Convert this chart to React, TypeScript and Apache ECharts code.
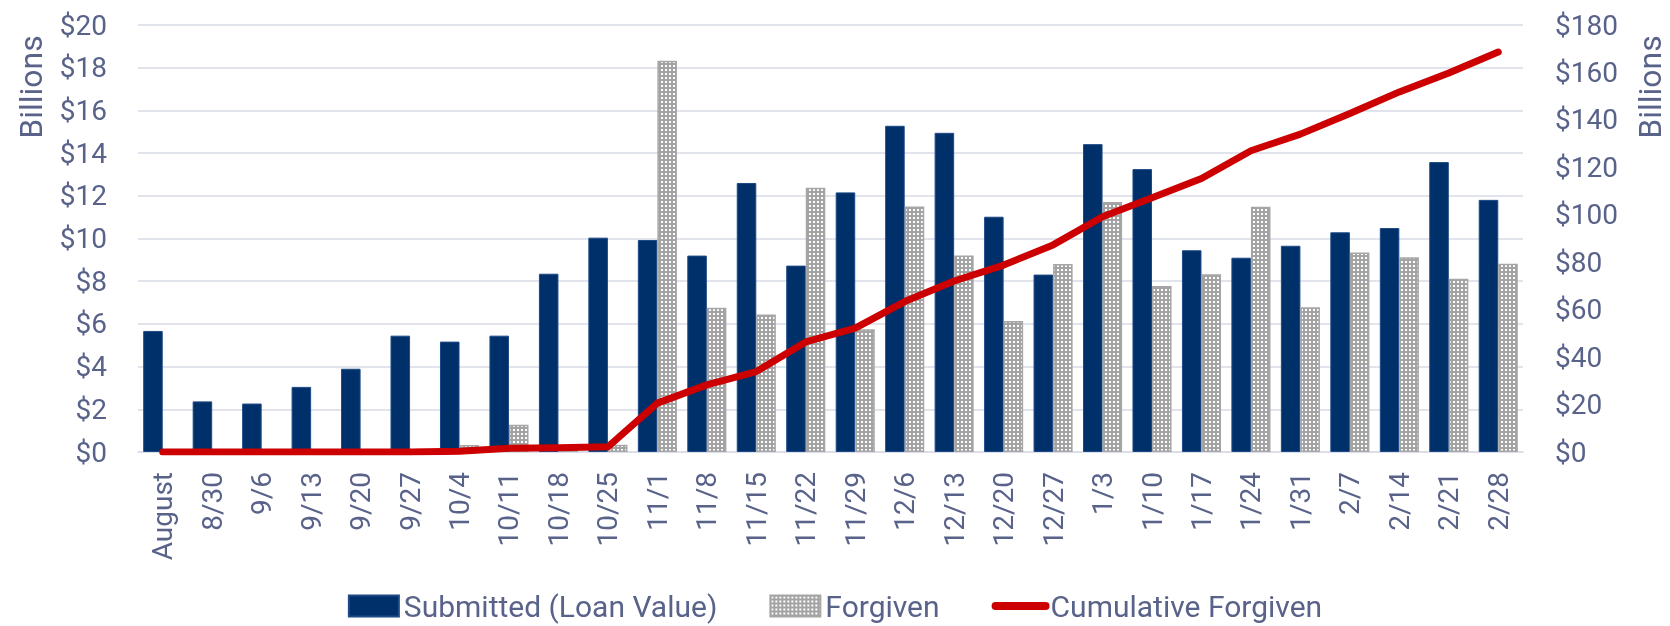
import React, { useEffect, useRef } from 'react';
import * as echarts from 'echarts';

const categories = ['August', '8/30', '9/6', '9/13', '9/20', '9/27', '10/4', '10/11', '10/18', '10/25', '11/1', '11/8', '11/15', '11/22', '11/29', '12/6', '12/13', '12/20', '12/27', '1/3', '1/10', '1/17', '1/24', '1/31', '2/7', '2/14', '2/21', '2/28'];
const submitted = [5.67, 2.37, 2.27, 3.05, 3.9, 5.45, 5.17, 5.45, 8.35, 10.04, 9.93, 9.2, 12.6, 8.73, 12.16, 15.28, 14.95, 11.02, 8.31, 14.42, 13.25, 9.45, 9.1, 9.66, 10.29, 10.49, 13.58, 11.81];
const forgiven = [0, 0, 0, 0, 0, 0, 0.33, 1.28, 0.15, 0.34, 18.32, 6.76, 6.44, 12.38, 5.75, 11.5, 9.2, 6.14, 8.81, 11.71, 7.78, 8.33, 11.49, 6.78, 9.35, 9.12, 8.12, 8.82];
const cumulative = [0, 0, 0, 0, 0, 0, 0.3, 1.6, 1.8, 2.2, 20.6, 28.3, 33.9, 46.4, 52.2, 63.4, 72.1, 78.8, 87.3, 99.2, 107.2, 115.3, 127, 134, 142.7, 151.8, 159.8, 168.6];
const leftTicks = { min: 0, max: 20, interval: 2 };
const rightTicks = { min: 0, max: 180, interval: 20 };
const seriesNames = ['Submitted (Loan Value)', 'Forgiven', 'Cumulative Forgiven'];
const axisTitle = 'Billions';

const TEXT = '#596289';
const GRID = '#d9dbe7';
const FONT = 'Roboto';

function makePattern() {
  const c = document.createElement('canvas');
  c.width = 4;
  c.height = 4;
  const ctx = c.getContext('2d')!;
  ctx.fillStyle = '#a3a3a3';
  ctx.fillRect(0, 0, 4, 4);
  ctx.fillStyle = '#ffffff';
  ctx.fillRect(1, 1, 2, 2);
  return { image: c, repeat: 'repeat' };
}

export default function App() {
  const ref = useRef<HTMLDivElement>(null);
  useEffect(() => {
    if (!ref.current) return;
    const chart = echarts.init(ref.current, null, { renderer: 'svg' });
    const pattern = makePattern();
    chart.setOption({
      animation: false,
      textStyle: { fontFamily: FONT },
      grid: { left: 138, right: 147, top: 25, bottom: 174 },
      legend: {
        bottom: 0,
        left: 'center',
        itemWidth: 50,
        itemHeight: 21,
        itemGap: 52,
        textStyle: { color: TEXT, fontSize: 30, fontFamily: FONT },
        data: [
          { name: seriesNames[0], icon: 'rect' },
          { name: seriesNames[1], icon: 'rect' },
          {
            name: seriesNames[2],
            itemStyle: { opacity: 0 },
            lineStyle: { color: '#cc0000', width: 8, cap: 'round' },
          },
        ],
      },
      xAxis: {
        type: 'category',
        data: categories,
        axisTick: { show: false },
        axisLine: { lineStyle: { color: GRID, width: 1.5 } },
        axisLabel: { rotate: 90, margin: 20, color: TEXT, fontSize: 28, fontFamily: FONT, interval: 0 },
      },
      yAxis: [
        {
          type: 'value',
          ...leftTicks,
          axisLabel: { formatter: (v: number) => '$' + v, color: TEXT, fontSize: 28, fontFamily: FONT, margin: 31 },
          splitLine: { lineStyle: { color: GRID, width: 1.5 } },
          axisLine: { show: false },
          axisTick: { show: false },
        },
        {
          type: 'value',
          ...rightTicks,
          axisLabel: { formatter: (v: number) => '$' + v, color: TEXT, fontSize: 28, fontFamily: FONT, margin: 32 },
          splitLine: { show: false },
          axisLine: { show: false },
          axisTick: { show: false },
        },
      ],
      graphic: [
        {
          type: 'text',
          x: 31,
          y: 87,
          rotation: Math.PI / 2,
          style: { text: axisTitle, fill: TEXT, font: `32px ${FONT}`, textAlign: 'center', textVerticalAlign: 'middle' },
        },
        {
          type: 'text',
          x: 1650,
          y: 87,
          rotation: Math.PI / 2,
          style: { text: axisTitle, fill: TEXT, font: `32px ${FONT}`, textAlign: 'center', textVerticalAlign: 'middle' },
        },
      ],
      series: [
        {
          name: seriesNames[0],
          type: 'bar',
          data: submitted,
          barGap: '0%',
          barCategoryGap: '21%',
          itemStyle: { color: '#00306a', borderColor: '#1d4a86', borderWidth: 1 },
          z: 2,
        },
        {
          name: seriesNames[1],
          type: 'bar',
          data: forgiven,
          itemStyle: { color: pattern, borderColor: '#a6a6a6', borderWidth: 1.5 },
          z: 2,
        },
        {
          name: seriesNames[2],
          type: 'line',
          yAxisIndex: 1,
          data: cumulative,
          symbol: 'none',
          lineStyle: { color: '#cc0000', width: 7, cap: 'round', join: 'round' },
          itemStyle: { color: '#cc0000' },
          z: 5,
        },
      ],
    });
    return () => chart.dispose();
  }, []);
  return <div ref={ref} style={{ position: 'fixed', left: 0, top: 0, width: 1670, height: 626 }} />;
}
